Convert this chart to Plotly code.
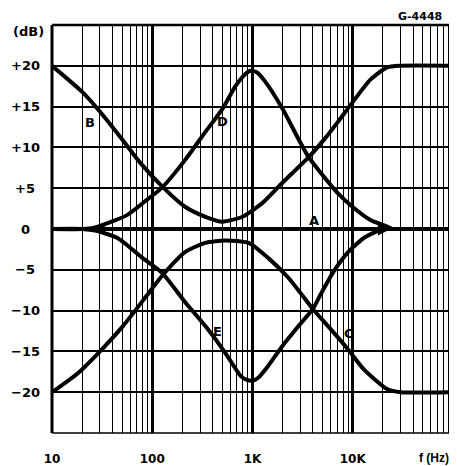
import math
import plotly.graph_objects as go

# ---- data ----
freq_B = [10, 20, 30, 50, 76, 126, 214, 339, 500, 794, 1260, 2000, 3630, 5370, 7080, 10200, 15000, 22000, 30000, 100000]
db_B = [20, 16.8, 14.4, 11.0, 8.1, 5.2, 2.7, 1.5, 0.9, 1.5, 3.2, 5.7, 8.8, 11.2, 13.1, 15.7, 18.3, 19.8, 20, 20]

freq_D = [10, 20, 27, 56, 89, 126, 214, 339, 500, 676, 850, 955, 1100, 1350, 2000, 2880, 3630, 4790, 7080, 10200, 15000, 22000, 25000]
db_D = [0, 0, 0.2, 1.7, 3.6, 5.1, 8.5, 11.9, 14.7, 17.5, 19.0, 19.4, 19.2, 18.0, 14.7, 11.0, 8.8, 6.9, 4.4, 2.6, 1.1, 0.3, 0]

freq_C = [10, 18, 29, 51, 89, 126, 214, 339, 537, 912, 1450, 2290, 4000, 4790, 6460, 8900, 12900, 22000, 30000, 100000]
db_C = [-20, -17.7, -15.2, -11.9, -8.1, -5.7, -2.8, -1.7, -1.4, -1.7, -3.6, -6.0, -9.8, -10.9, -12.7, -14.7, -17.2, -19.6, -20, -20]

freq_E = [10, 20, 27, 45, 81, 126, 214, 339, 537, 760, 880, 1000, 1150, 1350, 2000, 2880, 4000, 4790, 6460, 8900, 12900, 20000, 25000]
db_E = [0, 0, -0.2, -1.1, -3.6, -5.4, -9.0, -11.9, -15.2, -18.0, -18.5, -18.6, -18.2, -17.2, -14.3, -11.9, -9.8, -8.0, -5.2, -2.9, -1.1, 0, 0]

freq_A = [10, 100000]
db_A = [0, 0]

curve_labels = ["A", "B", "C", "D", "E"]
label_freq = [4070, 24, 9120, 500, 447]
label_db = [1.1, 13.1, -12.8, 13.2, -12.5]

x_tick_vals = [10, 100, 1000, 10000]
x_tick_text = ["10", "100", "1K", "10K"]
minor_vals = [m * 10 ** e for e in range(1, 5) for m in range(2, 10)]
y_tick_vals = [20, 15, 10, 5, 0, -5, -10, -15, -20]
y_tick_text = ["+20", "+15", "+10", "+5", "0", "\u22125", "\u221210", "\u221215", "\u221220"]

FONT = "DejaVu Sans"
fig = go.Figure()

line_style = dict(color="black", width=4, shape="spline", smoothing=0.6)
for fx, fy in [(freq_A, db_A), (freq_B, db_B), (freq_C, db_C), (freq_D, db_D), (freq_E, db_E)]:
    fig.add_trace(go.Scatter(x=fx, y=fy, mode="lines", line=line_style,
                             hoverinfo="skip", showlegend=False))

fig.update_xaxes(type="log", range=[1, 5], automargin=False,
                 tickvals=x_tick_vals, ticktext=x_tick_text,
                 showgrid=True, gridcolor="black", gridwidth=2.5,
                 minor=dict(tickvals=minor_vals, showgrid=True, gridcolor="black", gridwidth=1.4),
                 ticks="", ticklabelstandoff=17,
                 tickfont=dict(family=FONT, size=12, color="black", weight="bold"),
                 zeroline=False, showline=False)
fig.update_yaxes(range=[-25, 25], tickvals=y_tick_vals, showticklabels=False, automargin=False,
                 showgrid=True, gridcolor="black", gridwidth=2,
                 zeroline=False, showline=False)

# borders
fig.add_shape(type="line", xref="paper", yref="paper", x0=0, x1=0, y0=0, y1=1,
              line=dict(color="black", width=3))
fig.add_shape(type="line", xref="paper", yref="paper", x0=0, x1=1, y0=1, y1=1,
              line=dict(color="black", width=2.5))
fig.add_shape(type="line", xref="paper", yref="paper", x0=0, x1=1, y0=0, y1=0,
              line=dict(color="black", width=1.5))
fig.add_shape(type="line", xref="paper", yref="paper", x0=1, x1=1, y0=0, y1=1,
              line=dict(color="black", width=1.5))

lab_font = dict(family=FONT, size=13, color="black", weight="bold")
ann = []
for v, t in zip(y_tick_vals, y_tick_text):
    ann.append(dict(x=0, xref="paper", y=v, yref="y", text=t, showarrow=False,
                    xanchor="center", xshift=-27, font=lab_font))
ann.append(dict(x=0, xref="paper", y=1, yref="paper", text="(dB)", showarrow=False,
                xanchor="center", yanchor="middle", xshift=-24, yshift=-6, font=lab_font))
ann.append(dict(x=1, xref="paper", y=0, yref="paper", text="f (Hz)", showarrow=False,
                xanchor="center", yanchor="middle", xshift=-19, yshift=-25,
                font=dict(family="Liberation Sans", size=12, color="black", weight="bold")))
ann.append(dict(x=1, xref="paper", y=1, yref="paper", text="G-4448", showarrow=False,
                xanchor="center", yanchor="middle", xshift=-33, yshift=9,
                font=dict(family=FONT, size=11, color="black", weight="bold")))
for t, fx, fy in zip(curve_labels, label_freq, label_db):
    ann.append(dict(x=math.log10(fx), y=fy, text=t, showarrow=False,
                    xanchor="center", yanchor="middle", font=lab_font))
# small arrowheads at the ends of the mid curves
ann.append(dict(x=math.log10(25), y=0, ax=14, ay=0, text="", showarrow=True,
                arrowhead=2, arrowsize=1.3, arrowwidth=2, arrowcolor="black"))
ann.append(dict(x=math.log10(24000), y=0, ax=-14, ay=0, text="", showarrow=True,
                arrowhead=2, arrowsize=1.3, arrowwidth=2, arrowcolor="black"))

# the page body adds an 8px offset, so margins are reduced by 8px on the left/top
fig.update_layout(width=457, height=466, margin=dict(l=44, r=12, t=17, b=41),
                  paper_bgcolor="white", plot_bgcolor="white", annotations=ann)

fig.write_html("out.html")
